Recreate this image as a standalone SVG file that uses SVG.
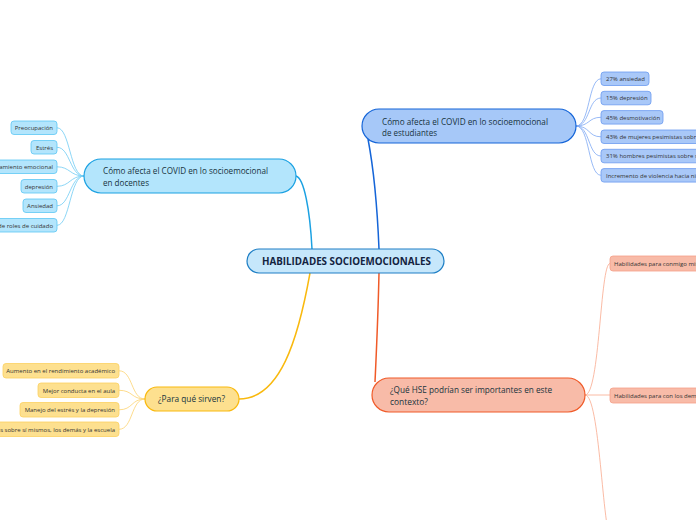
<svg xmlns="http://www.w3.org/2000/svg" width="696" height="520" viewBox="0 0 696 520">
<style>
text{font-family:"Open Sans","Noto Sans","Liberation Sans",sans-serif}
.nt{font-size:8.6px;fill:#17333d}
.lt{font-size:6px;fill:#333}
.c{fill:none}
.lb{fill:#b3e5fc;stroke:#5cc6f4;stroke-width:0.8}
.lv{fill:#a9c8f8;stroke:#6b9af0;stroke-width:0.8}
.ly{fill:#fde08f;stroke:#fbd060;stroke-width:0.8}
.lr{fill:#f8bba8;stroke:#f5a088;stroke-width:0.8}
</style>
<rect width="696" height="520" fill="#fff"/>
<g id="connectors" class="c">
<path d="M296,176 C304,178 310,210 312,249" stroke="#1ba1e2" stroke-width="1.5"/>
<path d="M379,249 C377,200 372,160 368,139" stroke="#1565d8" stroke-width="1.5"/>
<path d="M310,273 C298,340 280,399 239,399" stroke="#f9b90e" stroke-width="1.5"/>
<path d="M379,273 C378,320 376,360 375,382" stroke="#f05a28" stroke-width="1.5"/>
<g stroke="#6fcbf4" stroke-width="0.8">
<path d="M84,176 C70,176 70,127.8 57,127.8"/>
<path d="M84,176 C70,176 70,147.3 57,147.3"/>
<path d="M84,176 C70,176 70,166.8 57,166.8"/>
<path d="M84,176 C70,176 70,186.3 57,186.3"/>
<path d="M84,176 C70,176 70,205.8 57,205.8"/>
<path d="M84,176 C70,176 70,225.3 57,225.3"/>
</g>
<g stroke="#7da8f4" stroke-width="0.8">
<path d="M576,126 C590,126 588,78.8 601,78.8"/>
<path d="M576,126 C590,126 588,98 601,98"/>
<path d="M576,126 C590,126 588,117.3 601,117.3"/>
<path d="M576,126 C590,126 588,136.8 601,136.8"/>
<path d="M576,126 C590,126 588,156 601,156"/>
<path d="M576,126 C590,126 588,175.3 601,175.3"/>
</g>
<g stroke="#fcd370" stroke-width="0.8">
<path d="M145,399 C131,399 133,370.8 119,370.8"/>
<path d="M145,399 C131,399 133,390.3 119,390.3"/>
<path d="M145,399 C131,399 133,409.8 119,409.8"/>
<path d="M145,399 C131,399 133,429.3 119,429.3"/>
</g>
<g stroke="#f9a98e" stroke-width="0.8">
<path d="M585,395 C600,395 600,263.5 610,263.5"/>
<path d="M585,395 L610,395"/>
<path d="M585,395 C600,395 602,530 612,545"/>
</g>
</g>
<g id="center">
<rect x="247" y="249" width="197" height="24" rx="12" fill="#c6e7fb" stroke="#1e7fc5" stroke-width="1.2"/>
<text x="262" y="265" font-size="10.5" font-weight="bold" fill="#13233f" textLength="169" lengthAdjust="spacingAndGlyphs">HABILIDADES SOCIOEMOCIONALES</text>
</g>
<g id="docentes">
<rect x="84" y="159" width="212" height="34" rx="17" fill="#b3e5fc" stroke="#1ba1e2" stroke-width="1.2"/>
<text class="nt" x="103" y="174" textLength="165" lengthAdjust="spacingAndGlyphs">Cómo afecta el COVID en lo socioemocional</text>
<text class="nt" x="103" y="185.5" textLength="46" lengthAdjust="spacingAndGlyphs">en docentes</text>
</g>
<g id="estudiantes">
<rect x="362" y="109" width="214" height="34" rx="17" fill="#a6c8f8" stroke="#1565d8" stroke-width="1.2"/>
<text class="nt" x="382" y="124.5" textLength="166" lengthAdjust="spacingAndGlyphs">Cómo afecta el COVID en lo socioemocional</text>
<text class="nt" x="382" y="135.5" textLength="55" lengthAdjust="spacingAndGlyphs">de estudiantes</text>
</g>
<g id="hse">
<rect x="372" y="378" width="213" height="34" rx="17" fill="#f8bba8" stroke="#f05a28" stroke-width="1.2"/>
<text class="nt" x="390" y="393" textLength="162" lengthAdjust="spacingAndGlyphs">¿Qué HSE podrían ser importantes en este</text>
<text class="nt" x="390" y="404.5" textLength="38" lengthAdjust="spacingAndGlyphs">contexto?</text>
</g>
<g id="sirven">
<rect x="145" y="387" width="94" height="24" rx="12" fill="#fde08f" stroke="#f9b90e" stroke-width="1.2"/>
<text class="nt" x="158" y="402" textLength="67" lengthAdjust="spacingAndGlyphs">¿Para qué sirven?</text>
</g>
<g id="doc-leaves">
<g id="d1"><rect class="lb" x="11" y="121" width="46" height="13.5" rx="3"/><text class="lt" x="53" y="130" text-anchor="end">Preocupación</text></g>
<g id="d2"><rect class="lb" x="31" y="140.5" width="26" height="13.5" rx="3"/><text class="lt" x="53" y="149.5" text-anchor="end">Estrés</text></g>
<g id="d3"><rect class="lb" x="-40" y="160" width="97" height="13.5" rx="3"/><text class="lt" x="53" y="169" text-anchor="end">Agotamiento emocional</text></g>
<g id="d4"><rect class="lb" x="21" y="179.5" width="36" height="13.5" rx="3"/><text class="lt" x="53" y="188.5" text-anchor="end">depresión</text></g>
<g id="d5"><rect class="lb" x="23" y="199" width="34" height="13.5" rx="3"/><text class="lt" x="53" y="208" text-anchor="end">Ansiedad</text></g>
<g id="d6"><rect class="lb" x="-60" y="218.5" width="117" height="13.5" rx="3"/><text class="lt" x="53" y="227.5" text-anchor="end">Aumento de roles de cuidado</text></g>
</g>
<g id="est-leaves">
<g id="e1"><rect class="lv" x="601" y="72" width="48" height="13.5" rx="3"/><text class="lt" x="606" y="81">27% ansiedad</text></g>
<g id="e2"><rect class="lv" x="601" y="91.3" width="50" height="13.5" rx="3"/><text class="lt" x="606" y="100.3">15% depresión</text></g>
<g id="e3"><rect class="lv" x="601" y="110.6" width="62" height="13.5" rx="3"/><text class="lt" x="606" y="119.6">45% desmotivación</text></g>
<g id="e4"><rect class="lv" x="601" y="130" width="110" height="13.5" rx="3"/><text class="lt" x="606" y="139">43%  de mujeres pesimistas sobre</text></g>
<g id="e5"><rect class="lv" x="601" y="149.3" width="110" height="13.5" rx="3"/><text class="lt" x="606" y="158.3">31% hombres pesimistas sobre su</text></g>
<g id="e6"><rect class="lv" x="601" y="168.6" width="110" height="13.5" rx="3"/><text class="lt" x="606" y="177.6">Incremento de violencia hacia niños</text></g>
</g>
<g id="sirven-leaves">
<g id="s1"><rect class="ly" x="3" y="363.5" width="116" height="14.5" rx="3"/><text class="lt" x="115" y="373" text-anchor="end">Aumento en el rendimiento académico</text></g>
<g id="s2"><rect class="ly" x="38" y="383" width="81" height="14.5" rx="3"/><text class="lt" x="115" y="392.5" text-anchor="end">Mejor conducta en el aula</text></g>
<g id="s3"><rect class="ly" x="20" y="402.5" width="99" height="14.5" rx="3"/><text class="lt" x="115" y="412" text-anchor="end">Manejo del estrés y la depresión</text></g>
<g id="s4"><rect class="ly" x="-80" y="422" width="199" height="14.5" rx="3"/><text class="lt" x="115" y="431.5" text-anchor="end">Actitudes positivas sobre sí mismos, los demás y la escuela</text></g>
</g>
<g id="hse-leaves">
<g id="h1"><rect class="lr" x="610" y="256" width="100" height="15" rx="3"/><text class="lt" x="614" y="265.5">Habilidades para conmigo mismo</text></g>
<g id="h2"><rect class="lr" x="610" y="388" width="100" height="15" rx="3"/><text class="lt" x="614" y="397.5">Habilidades para con los demás</text></g>
</g>
</svg>
